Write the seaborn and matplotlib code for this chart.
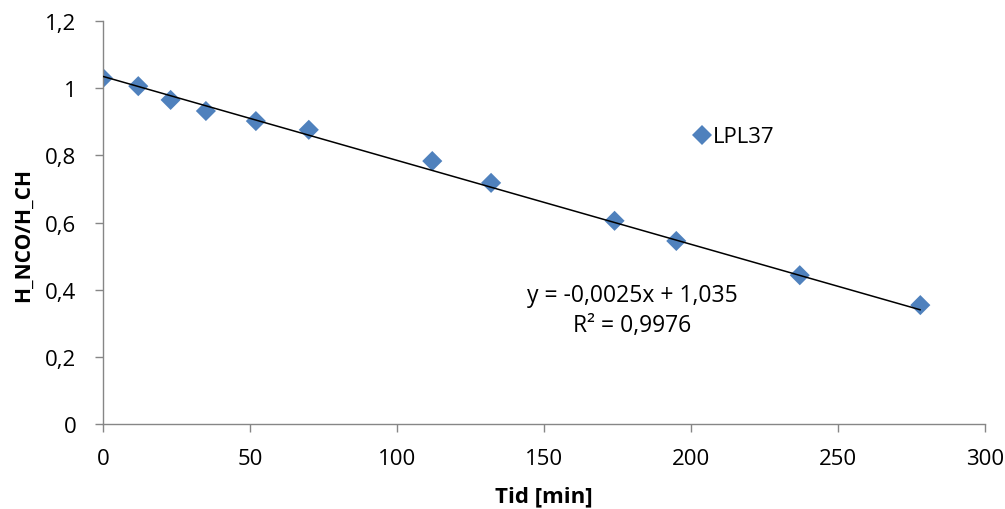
import matplotlib
matplotlib.use("Agg")
import matplotlib.pyplot as plt
import seaborn as sns
import pandas as pd
import numpy as np

tid = [0, 12, 23, 35, 52, 70, 112, 132, 174, 195, 237, 278]
ratio = [1.030, 1.006, 0.965, 0.932, 0.902, 0.876, 0.783, 0.718, 0.605, 0.545, 0.443, 0.354]
series_name = "LPL37"

# trendline as reported
slope = -0.0025
intercept = 1.035
r2 = 0.9976

x_ticks = [0, 50, 100, 150, 200, 250, 300]
y_ticks = [0, 0.2, 0.4, 0.6, 0.8, 1.0, 1.2]

df = pd.DataFrame({"Tid": tid, "Ratio": ratio, "Serie": series_name})

sns.set_theme(style="white")
plt.rcParams["font.family"] = ["Open Sans", "DejaVu Sans"]
plt.rcParams["text.color"] = "black"

fig = plt.figure(figsize=(10.05, 5.10), dpi=100)
ax = fig.add_axes([103 / 1005, 1 - 425 / 510, (985 - 103) / 1005, (425 - 22) / 510])

blue = "#4F81BD"
sns.scatterplot(data=df, x="Tid", y="Ratio", hue="Serie", palette=[blue],
                marker="D", s=105, linewidth=0, ax=ax, zorder=2)

xs = np.array([min(tid), max(tid)])
ax.plot(xs, slope * xs + intercept, color="black", linewidth=1.1, zorder=3)

ax.set_xlim(0, 300)
ax.set_ylim(0, 1.2)
ax.set_xticks(x_ticks)
ax.set_yticks(y_ticks)
ax.set_xticklabels([str(v) for v in x_ticks])
ax.set_yticklabels([("%g" % v).replace(".", ",") for v in y_ticks])

for side in ["top", "right"]:
    ax.spines[side].set_visible(False)
for side in ["left", "bottom"]:
    ax.spines[side].set_color("#868686")
    ax.spines[side].set_linewidth(1.0)
ax.tick_params(axis="both", which="major", direction="out", length=6, width=1,
               color="#868686", labelsize=16, labelcolor="black",
               bottom=True, left=True)
ax.tick_params(axis="x", pad=11)
ax.tick_params(axis="y", pad=13)

ax.set_xlabel("Tid [min]", fontsize=16, fontweight="bold", color="black")
ax.set_ylabel("H_NCO/H_CH", fontsize=15, fontweight="bold", color="black")
ax.xaxis.label.set_va("center")
ax.yaxis.label.set_va("center")
ax.xaxis.set_label_coords(0.5, -(497 - 425) / 403)
ax.yaxis.set_label_coords((23 - 103) / 882, 1 - (235 - 22) / 403)

eq = "y = %sx + %s" % (("%g" % slope).replace(".", ","), ("%g" % intercept).replace(".", ","))
ax.text(632 / 1005, 1 - 296 / 510, eq, transform=fig.transFigure,
        ha="center", va="center", fontsize=16.5)
ax.text(632 / 1005, 1 - 326 / 510, "R² = " + ("%g" % r2).replace(".", ","),
        transform=fig.transFigure, ha="center", va="center", fontsize=16.5)

leg = ax.legend(loc="center left", bbox_to_anchor=(680 / 1005, 1 - 138 / 510),
                bbox_transform=fig.transFigure, frameon=False, fontsize=16,
                handletextpad=0.0, borderpad=0, handlelength=1.0)

fig.savefig("out.png", dpi=100)
